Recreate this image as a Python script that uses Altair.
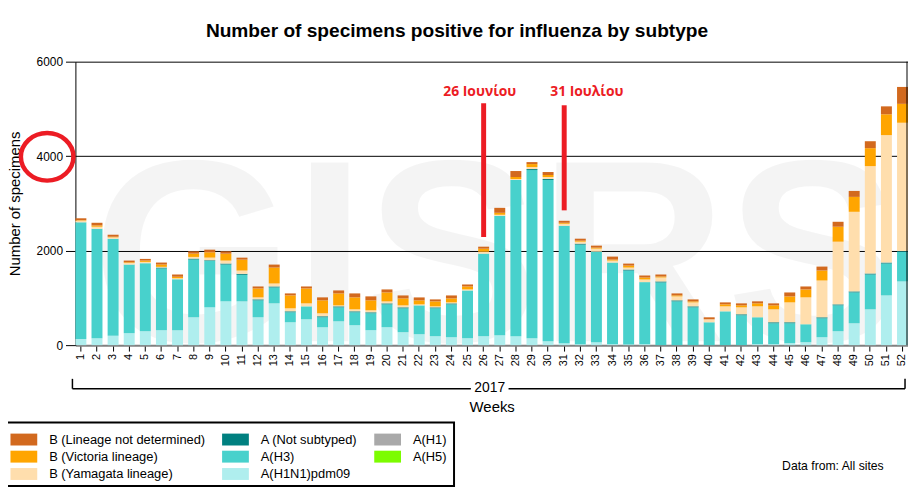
import altair as alt
import pandas as pd

weeks = [str(i) for i in range(1, 53)]

h1n1 = [130, 147, 197, 253, 295, 316, 316, 590, 800, 927, 927, 590, 885, 484, 547, 379, 505, 421, 316, 379,
        274, 232, 190, 168, 147, 190, 211, 190, 147, 84, 42, 21, 63, 21, 14, 21, 0, 0, 0, 0,
        0, 0, 21, 21, 42, 63, 168, 295, 463, 758, 1053, 1348]
h3 = [2470, 2317, 2056, 1453, 1439, 1306, 1081, 1221, 983, 779, 561, 358, 336, 211, 274, 211, 295, 274, 358, 484,
      505, 610, 589, 695, 1011, 1747, 2527, 3306, 3559, 3412, 2485, 2106, 1917, 1727, 1565, 1313, 1327, 927, 800, 484,
      716, 632, 569, 442, 421, 379, 400, 547, 653, 737, 674, 632]
not_sub = [0, 0, 0, 0, 0, 21, 0, 21, 14, 21, 21, 21, 21, 21, 0, 21, 21, 21, 21, 21,
           21, 0, 21, 21, 0, 0, 0, 0, 21, 21, 0, 21, 0, 0, 21, 0, 21, 21, 21, 0,
           0, 21, 0, 21, 21, 0, 21, 21, 21, 21, 21, 10]
h1 = [0, 0, 0, 0, 0, 0, 0, 0, 0, 0, 0, 0, 0, 0, 0, 0, 0, 0, 0, 0,
      0, 0, 0, 0, 0, 0, 0, 0, 0, 0, 0, 0, 0, 0, 0, 0, 0, 0, 0, 0,
      0, 0, 0, 0, 0, 0, 0, 0, 0, 0, 0, 0]
h5 = [0, 0, 0, 0, 0, 0, 0, 0, 0, 0, 0, 0, 0, 0, 0, 0, 0, 0, 0, 0,
      0, 0, 0, 0, 0, 0, 0, 0, 0, 0, 0, 0, 0, 0, 0, 0, 0, 0, 0, 0,
      0, 0, 0, 0, 0, 0, 0, 0, 0, 0, 0, 0]
yam = [35, 42, 28, 35, 28, 14, 21, 35, 56, 63, 70, 42, 63, 63, 63, 63, 21, 42, 42, 42,
       42, 21, 21, 21, 21, 42, 21, 21, 42, 42, 42, 42, 63, 42, 42, 56, 84, 84, 84, 63,
       105, 147, 232, 274, 421, 569, 779, 1327, 1685, 2274, 2696, 2717]
vic = [10, 28, 14, 14, 28, 49, 28, 70, 112, 147, 231, 189, 337, 274, 316, 274, 253, 253, 211, 190,
       147, 84, 105, 84, 63, 63, 42, 42, 63, 42, 21, 21, 21, 21, 42, 42, 21, 21, 21, 0,
       42, 42, 63, 84, 126, 168, 211, 316, 316, 379, 442, 400]
nd = [40, 56, 42, 35, 35, 42, 49, 49, 56, 49, 42, 42, 63, 42, 42, 63, 63, 84, 84, 63,
      63, 63, 42, 63, 42, 42, 105, 126, 42, 63, 42, 42, 42, 63, 42, 42, 42, 42, 42, 42,
      42, 42, 42, 42, 84, 63, 84, 105, 126, 147, 168, 358]

# legend order (column-major, 3 columns)
legend_names = ["B (Lineage not determined)", "B (Victoria lineage)", "B (Yamagata lineage)",
                "A (Not subtyped)", "A(H3)", "A(H1N1)pdm09",
                "A(H1)", "A(H5)"]
legend_colors = ["#d2691e", "#ffa500", "#ffdead",
                 "#008080", "#48d1cc", "#afeeee",
                 "#a9a9a9", "#7cfc00"]

# stacking order, bottom first
stack_series = [("A(H1N1)pdm09", h1n1), ("A(H1)", h1), ("A(H3)", h3), ("A(H5)", h5),
                ("A (Not subtyped)", not_sub), ("B (Yamagata lineage)", yam),
                ("B (Victoria lineage)", vic), ("B (Lineage not determined)", nd)]

y_ticks = [0, 2000, 4000, 6000]
annot_weeks = ["26", "31"]
annot_top = [5119, 5077]
annot_bottom = [2287, 2853]

rows = []
for k, (name, vals) in enumerate(stack_series):
    for w, v in zip(weeks, vals):
        rows.append({"week": w, "subtype": name, "value": v, "ord": k})
df = pd.DataFrame(rows)

W, H = 840, 286
FONT = "Liberation Sans"
RED = "#ec1c24"
XT = "Weeks"
YT = "Number of specimens"

xscale = alt.Scale(domain=weeks, paddingInner=0.32, paddingOuter=0)
yscale = alt.Scale(domain=[0, 6000], nice=False)

one = alt.Data(values=[{}])

watermark = alt.Chart(one).mark_text(
    text="GISRS", font="Liberation Sans", fontSize=262, fontWeight="bold", fill="black",
    fillOpacity=0.045, align="center", baseline="alphabetic"
).encode(x=alt.value(424), y=alt.value(282))

bars = alt.Chart(df).mark_bar(strokeWidth=0, opacity=1).encode(
    x=alt.X("week:N", scale=xscale, title=XT),
    y=alt.Y("value:Q", stack="zero", scale=yscale, title=YT,
            axis=alt.Axis(values=y_ticks, format="d", grid=True,
                          gridColor={"condition": {"test": "datum.value === 0", "value": "transparent"},
                                     "value": "black"})),
    color=alt.Color("subtype:N", scale=alt.Scale(domain=legend_names, range=legend_colors),
                    legend=alt.Legend(title=None, orient="none", legendX=-58.5, legendY=374.5, columns=3,
                                      symbolType="M-2.25,-1H2.25V1H-2.25Z", symbolSize=144,
                                      symbolStrokeWidth=0, symbolOpacity=1, labelFontSize=13,
                                      labelFont=FONT, labelColor="black", labelOffset=19,
                                      rowPadding=3.5, columnPadding=16.5, padding=0, labelLimit=300)),
    order=alt.Order("ord:Q", sort="ascending"),
)

# week labels, rotated, drawn on the band scale
week_labels = alt.Chart(pd.DataFrame({"week": weeks})).mark_text(
    align="right", baseline="middle", fontSize=11, font=FONT, color="black"
).encode(
    x=alt.X("week:N", scale=xscale, title=XT),
    y=alt.value(H + 9),
    angle=alt.value(270),
    text="week:N",
)

right_border = alt.Chart(one).mark_rule(color="black", strokeWidth=1).encode(
    x=alt.value(W - 1), y=alt.value(0), y2=alt.value(H))

annot = alt.Chart(pd.DataFrame({"week": annot_weeks, "value": annot_top, "bottom": annot_bottom})).mark_rule(
    color=RED, strokeWidth=5).encode(
    x=alt.X("week:N", scale=xscale, title=XT),
    y=alt.Y("value:Q", scale=yscale, title=YT),
    y2=alt.Y2("bottom:Q", title=YT))

def txt(text, x, y, size, color="black", weight="normal", font=FONT, align="center", baseline="middle"):
    return alt.Chart(one).mark_text(text=text, fontSize=size, color=color, fontWeight=weight, font=font,
                                    align=align, baseline=baseline).encode(x=alt.value(x), y=alt.value(y))

title = txt("Number of specimens positive for influenza by subtype", 385, -25, 19.3, weight="bold",
            baseline="alphabetic")
label26 = txt("26 Ιουνίου", 408, 31, 14, color=RED, weight="bold", font="Open Sans")
label31 = txt("31 Ιουλίου", 516, 31, 14, color=RED, weight="bold", font="Open Sans")
year = txt("2017", 418, 329, 14)
source = txt("Data from: All sites", 713, 412, 12.3, align="left", baseline="alphabetic")

ellipse = alt.Chart(one).mark_point(
    shape="M-1,0A1,0.906 0 1,1 1,0A1,0.906 0 1,1 -1,0Z", size=2809, filled=False,
    stroke=RED, strokeWidth=4.5, opacity=1).encode(x=alt.value(-28.5), y=alt.value(96))

def seg(x1, x2, y1, y2, width=1.5):
    return alt.Chart(one).mark_rule(color="black", strokeWidth=width).encode(
        x=alt.value(x1), x2=alt.value(x2), y=alt.value(y1), y2=alt.value(y2))

bracket = [seg(-3, 399, 330, 330), seg(437, 837, 330, 330), seg(-3, -3, 320, 330), seg(837, 837, 320, 330)]

legend_box = alt.Chart(one).mark_rect(fillOpacity=0, stroke="black", strokeWidth=2).encode(
    x=alt.value(-75), x2=alt.value(382), y=alt.value(364), y2=alt.value(428))

chart = alt.layer(
    watermark, bars, week_labels, right_border, annot, title, label26, label31, year, source, ellipse,
    *bracket, legend_box
).properties(
    width=W, height=H,
    autosize=alt.AutoSizeParams(type="none"),
    padding={"left": 68, "top": 52, "right": 0, "bottom": 143},
).configure_view(
    stroke=None
).configure_axisX(
    labels=False,
    tickSize=6, tickColor="black", domainColor="#808080", domainWidth=2,
    titleFontSize=15, titleFont=FONT, titleFontWeight="normal", titleColor="black",
    titleY=67, titleBaseline="alphabetic", grid=False
).configure_axisY(
    tickSize=10, tickColor="black", labelPadding=3, labelFontSize=12, labelFont=FONT, labelColor="black",
    domainColor="black", titleFontSize=15, titleFont=FONT, titleFontWeight="normal",
    titleColor="black", titleX=-53, titleY=143, titleAngle=270, titleAlign="center",
    titleBaseline="bottom", gridWidth=1
)

chart.save("out.html", embed_options={"renderer": "svg", "actions": False})
